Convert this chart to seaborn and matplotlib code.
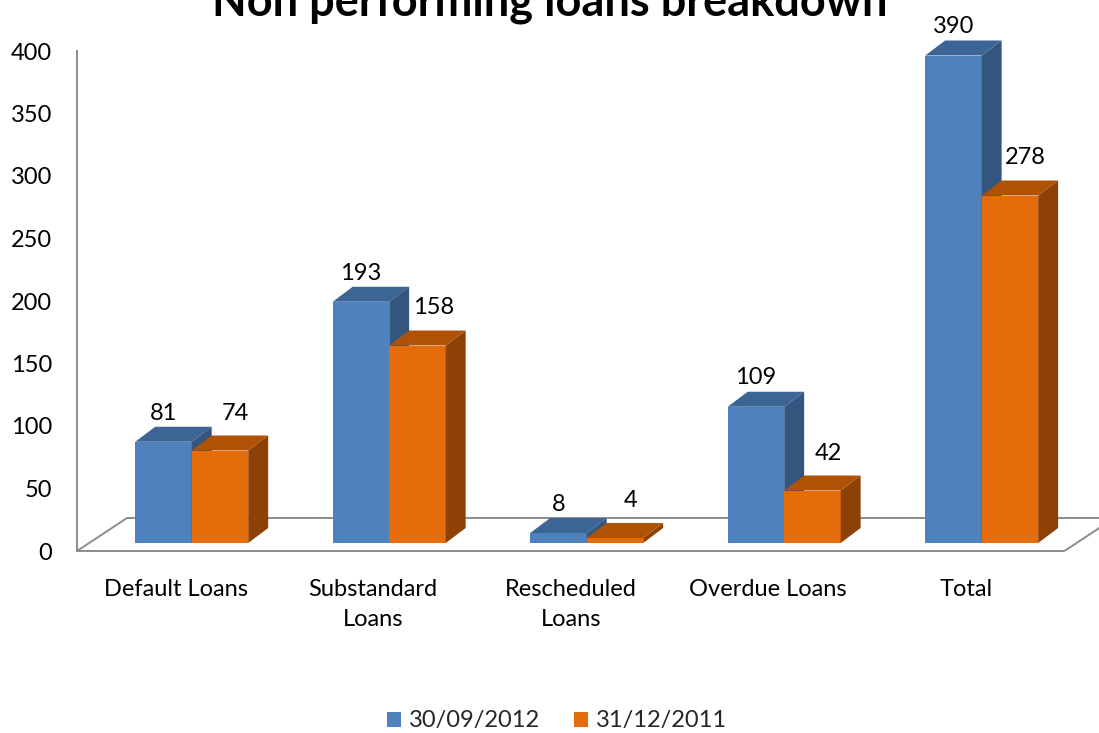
import matplotlib
matplotlib.use("Agg")
import matplotlib.pyplot as plt
from matplotlib.patches import Polygon
import seaborn as sns
import pandas as pd

categories = ["Default Loans", "Substandard\nLoans", "Rescheduled\nLoans", "Overdue Loans", "Total"]
series = ["30/09/2012", "31/12/2011"]
values_2012 = [81, 193, 8, 109, 390]
values_2011 = [74, 158, 4, 42, 278]
y_ticks = [0, 50, 100, 150, 200, 250, 300, 350, 400]
title = "Non performing loans breakdown"

front_colors = {"30/09/2012": "#4f81bd", "31/12/2011": "#e46c0a"}
top_colors = {"30/09/2012": "#3c6494", "31/12/2011": "#b05206"}
side_colors = {"30/09/2012": "#34557d", "31/12/2011": "#8e4105"}

df = pd.DataFrame({
    "category": categories * 2,
    "series": [series[0]] * len(categories) + [series[1]] * len(categories),
    "value": values_2012 + values_2011,
})

sns.set_style("white")
plt.rcParams["font.family"] = ["Lato", "DejaVu Sans"]

FS = 17
W, H = 1099, 733
fig = plt.figure(figsize=(W / 100, H / 100), dpi=100)
ax = fig.add_axes([77 / W, (H - 551) / H, 1 - 77 / W, 551 / H])

sns.barplot(data=df, x="category", y="value", hue="series", order=categories,
            hue_order=series, palette=front_colors, width=0.572, linewidth=0,
            ax=ax, saturation=1)

ax.set_xlim(-0.5, 4.675)
ax.set_ylim(0, 440.8)

grey = "#8c8c8c"
# 3D depth parameters (in data units)
base = 6.4          # bars sit behind the front floor edge
xshift = 0.081
tdx, tdy = 0.101, 12.0   # bar depth
fdx, fdy = 0.253, 26.4   # floor depth

# floor outline
ax.plot([-0.5, -0.5 + fdx], [0, fdy], color=grey, lw=1.4, zorder=1, solid_capstyle="butt")
ax.plot([-0.5 + fdx, 4.5 + fdx], [fdy, fdy], color=grey, lw=1.4, zorder=1)
ax.plot([4.5, 4.5 + fdx], [0, fdy], color=grey, lw=1.4, zorder=1)

n = len(categories)
for i, p in enumerate(ax.patches[: 2 * n]):
    s = series[i // n]
    z = 2 if s == series[0] else 3
    p.set_x(p.get_x() + xshift)
    p.set_y(base)
    p.set_zorder(z)
    x0 = p.get_x()
    x1 = x0 + p.get_width()
    y1 = base + p.get_height()
    side = Polygon([(x1, base), (x1, y1), (x1 + tdx, y1 + tdy), (x1 + tdx, base + tdy)],
                   closed=True, facecolor=side_colors[s], edgecolor="none", zorder=z + 0.1)
    top = Polygon([(x0, y1), (x0 + tdx, y1 + tdy), (x1 + tdx, y1 + tdy), (x1, y1)],
                  closed=True, facecolor=top_colors[s], edgecolor="none", zorder=z + 0.1)
    ax.add_patch(side)
    ax.add_patch(top)
    xc = (x0 + x1) / 2
    if s == series[0]:
        ax.text(xc, y1 + tdy + 11, f"{int(p.get_height())}", ha="center", va="center",
                fontsize=FS, color="black", zorder=5)
    else:
        ax.text(xc + 0.08, y1 + tdy + 18, f"{int(p.get_height())}", ha="center", va="center",
                fontsize=FS, color="black", zorder=5)

# spines and ticks
for sp in ["top", "right"]:
    ax.spines[sp].set_visible(False)
ax.spines["left"].set_bounds(0, 400)
ax.spines["bottom"].set_bounds(-0.5, 4.5)
for sp in ["left", "bottom"]:
    ax.spines[sp].set_color(grey)
    ax.spines[sp].set_linewidth(1.4)

ax.set_yticks(y_ticks)
ax.tick_params(axis="y", direction="out", length=5.8, width=1.4, color=grey,
               labelsize=FS, pad=12, labelcolor="black")
ax.set_xticks(range(n))
ax.set_xticklabels(categories, linespacing=1.55)
ax.set_xticks([k - 0.5 for k in range(n + 1)], minor=True)
ax.tick_params(axis="x", which="major", length=0, labelsize=FS, pad=20, labelcolor="black")
ax.tick_params(axis="x", which="minor", direction="out", length=5.8, width=1.4, color=grey)
ax.set_xlabel("")
ax.set_ylabel("")

# legend
handles, labels = ax.get_legend_handles_labels()
if ax.get_legend() is not None:
    ax.get_legend().remove()
fig.legend(handles[:2], labels[:2], loc="center", bbox_to_anchor=(557 / W, (H - 721) / H),
           ncol=2, frameon=False, fontsize=FS, handlelength=0.6, handleheight=0.6,
           handletextpad=0.35, columnspacing=1.4)

fig.text(0.5, 1 - 15 / H, title, ha="center", va="baseline", fontsize=32.5,
         fontweight="bold", color="black")

fig.savefig("out.png", dpi=100)
